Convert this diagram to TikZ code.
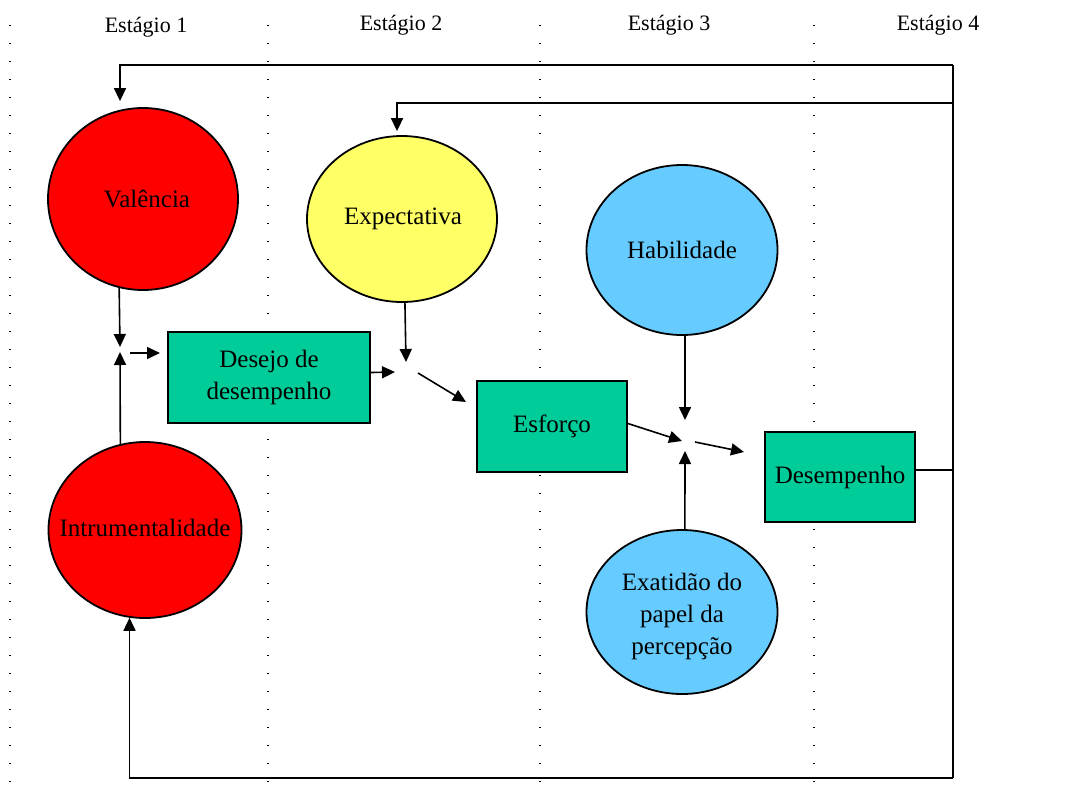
\documentclass[tikz,border=0pt]{standalone}
\usepackage{fontspec}
\setmainfont{Liberation Serif}
\usetikzlibrary{arrows.meta,calc,shapes.geometric}
\definecolor{cred}{HTML}{FF0000}
\definecolor{cyel}{HTML}{FFFF66}
\definecolor{cblue}{HTML}{66CCFF}
\definecolor{cgreen}{HTML}{00CC99}
\begin{document}
\begin{tikzpicture}[x=1pt,y=-1pt,
  txt/.style={font=\fontsize{25}{32}\selectfont, align=center},
  oval/.style={ellipse, draw, line width=1.8pt, inner sep=0pt, txt},
  boxn/.style={rectangle, draw, line width=1.8pt, fill=cgreen, inner sep=0pt, txt},
  arr/.style={line width=1.6pt, -{Triangle[length=13pt,width=12pt]}},
  ln/.style={line width=1.6pt},
  sep/.style={line width=1.6pt, dash pattern=on 1.4pt off 16.6pt},
  stage/.style={font=\fontsize{22}{26}\selectfont}]
\useasboundingbox (0,0) rectangle (1067,793);
\fill[white] (0,0) rectangle (1067,793);
% separators
\foreach \x in {10,268,540,814} \draw[sep] (\x,25) -- (\x,793);
% stage labels
\node[stage] (s1) at (146,27) {Estágio 1};
\node[stage] (s2) at (401,25) {Estágio 2};
\node[stage] (s3) at (669,25) {Estágio 3};
\node[stage] (s4) at (938,25) {Estágio 4};
% ellipses
\node[oval, fill=cred, minimum width=190pt, minimum height=182pt] (val) at (143,199) {};
\node[txt] (valt) at (147,199) {Valência};
\node[oval, fill=cred, minimum width=193pt, minimum height=176pt] (ins) at (145,530) {};
\node[txt] (inst) at (145,528) {Intrumentalidade};
\node[oval, fill=cyel, minimum width=190pt, minimum height=166pt] (exp) at (402,219) {};
\node[txt] (expt) at (403,219) {Expectativa};
\node[oval, fill=cblue, minimum width=191pt, minimum height=170pt] (hab) at (682,250) {};
\node[txt] (habt) at (682,250) {Habilidade};
\node[oval, fill=cblue, minimum width=191pt, minimum height=164pt] (exa) at (682,612) {};
\node[txt] (exat) at (682,616) {Exatidão do\\papel da\\percepção};
% boxes
\node[boxn, minimum width=202pt, minimum height=91pt] (des) at (269,377.5) {Desejo de\\desempenho};
\node[boxn, minimum width=150pt, minimum height=91pt] (esf) at (552,426.5) {Esforço};
\node[boxn, minimum width=150pt, minimum height=90pt] (dsp) at (840,477) {Desempenho};
% junction coordinates
\coordinate (j1a) at (120,347);
\coordinate (j1b) at (120,352);
\coordinate (j1c) at (130,353);
\coordinate (j1d) at (160,353);
\coordinate (j2a) at (406,362);
\coordinate (j2b) at (395,372);
\coordinate (j2c) at (418,373);
\coordinate (j2d) at (466,402);
\coordinate (j3a) at (685,420);
\coordinate (j3b) at (685,451);
\coordinate (j3c) at (682,441);
\coordinate (j3d) at (695,442);
\coordinate (j3e) at (744,452);
% feedback frame
\coordinate (r1) at (953,65);
\coordinate (r2) at (953,103);
\coordinate (r3) at (953,778);
\coordinate (r4) at (953,470);
% connectors stage 1
\draw[arr] (val.-105) -- (j1a);
\draw[arr] (ins.106) -- (j1b);
\draw[arr] (j1c) -- (j1d);
% stage 2
\draw[arr] (exp.-88.5) -- (j2a);
\draw[arr] ($(des.east)+(0,-5)$) -- (j2b);
\draw[arr] (j2c) -- (j2d);
% stage 3
\draw[arr] ($(esf.east)+(0,-3)$) -- (j3c);
\draw[arr] (hab.-88) -- (j3a);
\draw[arr] (exa.88) -- (j3b);
\draw[arr] (j3d) -- (j3e);
% feedback
\draw[ln] ($(dsp.east)+(0,-7)$) -- (r4);
\draw[ln] (r1) -- (r3);
\draw[arr] (r1) -| ($(val.north)+(-23,-6)$);
\draw[arr] (r2) -| ($(exp.north)+(-5,-4)$);
\draw[arr] (r3) -| (ins.-100);
\end{tikzpicture}
\end{document}
